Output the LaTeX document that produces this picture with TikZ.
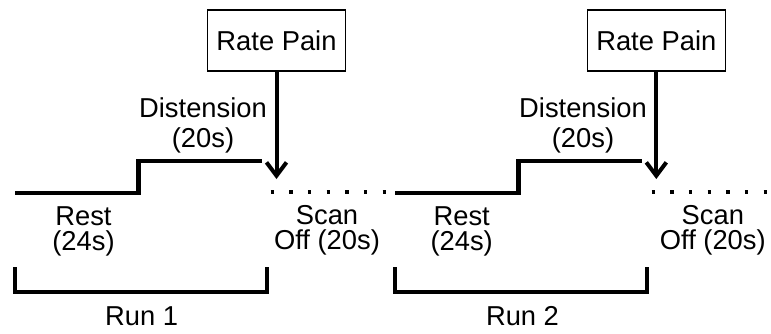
\documentclass[tikz,border=0pt]{standalone}
\usepackage{fontspec}
\setmainfont{Liberation Sans}
\usetikzlibrary{arrows.meta}

\tikzset{
    signal/.style={line width=3.2pt, line join=miter},
    scanoff/.style={line width=2.6pt, dash pattern=on 2.6pt off 11.4pt},
    bracket/.style={line width=3.2pt, line join=miter},
    painbox/.style={draw, line width=0.8pt, minimum width=103.5pt, minimum height=45.75pt,
        font=\fontsize{20.5}{24}\selectfont, inner sep=0pt},
    painarrow/.style={line width=3pt, -{Straight Barb[length=10pt, width=15pt]}},
    lbl/.style={font=\fontsize{20.5}{18.75}\selectfont, align=center, inner sep=0pt, anchor=north},
    distlbl/.style={lbl, font=\fontsize{20.5}{22.5}\selectfont},
    runlbl/.style={font=\fontsize{20.5}{24}\selectfont, inner sep=0pt, anchor=base}
}

\begin{document}
\begin{tikzpicture}[x=0.75pt, y=-0.75pt]
    \useasboundingbox (0,0) rectangle (771,333);

    % Run 1: rest, then distension, then scan off
    \draw[signal] (15,193) -- (138.5,193) -- (138.5,161) -- (262,161);
    \draw[scanoff] (270.5,192) -- (386,192);
    \node[lbl] (rest1) at (83.5,206) {Rest\\(24s)};
    \node[distlbl] (dist1) at (203,97.3) {Distension\\(20s)};
    \node[lbl] (scan1) at (327,205.5) {Scan\\Off (20s)};

    % Rating prompt 1
    \node[painbox] (rate1) at (276.5,40.5) {Rate Pain};
    \coordinate (tip1) at (276.5,179);
    \draw[painarrow] (rate1.south) -- (tip1);

    % Run 2
    \draw[signal] (395,193) -- (518.5,193) -- (518.5,161) -- (642,161);
    \draw[scanoff] (651.5,192) -- (768,192);
    \node[lbl] (rest2) at (461.7,206) {Rest\\(24s)};
    \node[distlbl] (dist2) at (583,97.3) {Distension\\(20s)};
    \node[lbl] (scan2) at (712.8,205.5) {Scan\\Off (20s)};

    % Rating prompt 2
    \node[painbox] (rate2) at (656.3,40.5) {Rate Pain};
    \coordinate (tip2) at (656.3,179);
    \draw[painarrow] (rate2.south) -- (tip2);

    % Brackets marking each run
    \draw[bracket] (15,267) -- (15,292) -- (267,292) -- (267,267);
    \node[runlbl] (run1) at (141.7,325) {Run 1};
    \draw[bracket] (395,267) -- (395,292) -- (647,292) -- (647,267);
    \node[runlbl] (run2) at (522.5,325) {Run 2};
\end{tikzpicture}
\end{document}
